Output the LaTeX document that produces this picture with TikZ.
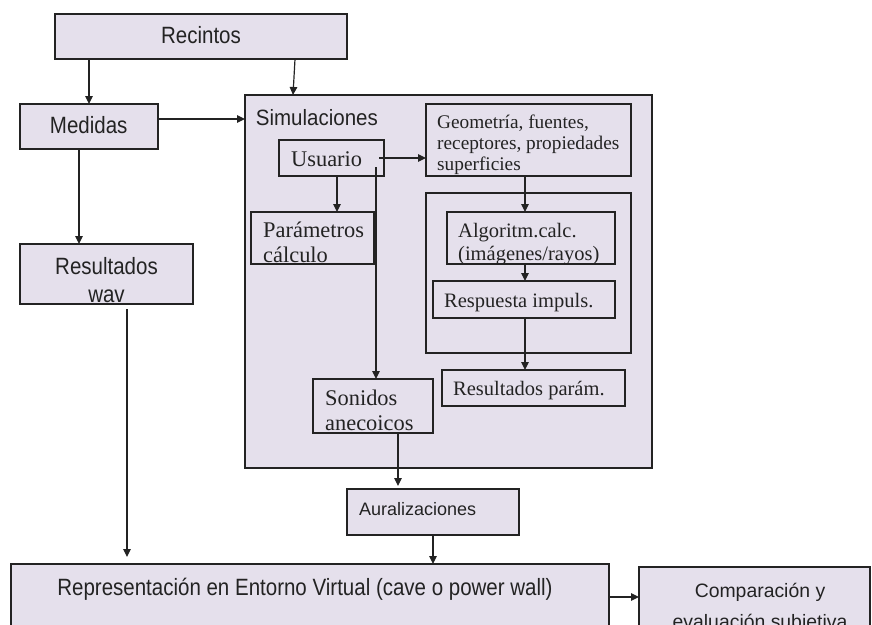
\documentclass[tikz,border=0pt]{standalone}
\usepackage{fontspec}
\usepackage{graphicx}
\setmainfont{Liberation Serif}
\newfontfamily\arialf{Liberation Sans}
\usetikzlibrary{arrows.meta,calc}
\definecolor{boxfill}{RGB}{229,224,236}
\definecolor{ink}{RGB}{35,35,35}
\tikzset{
  box/.style={draw=ink, fill=boxfill, line width=1.5pt, inner sep=0pt, outer sep=0pt, anchor=north west},
  arr/.style={draw=ink, line width=1.2pt, -{Triangle[length=8pt,width=7.5pt]}},
  sansA/.style={font=\arialf\fontsize{20.5}{25.2}\selectfont, inner sep=0pt, text=ink},
  sansS/.style={font=\arialf\fontsize{18}{22}\selectfont, inner sep=0pt, text=ink},
  sansC/.style={font=\arialf\fontsize{19.4}{31}\selectfont, inner sep=0pt, text=ink},
  serL/.style={font=\fontsize{22.4}{25.5}\selectfont, inner sep=0pt, text=ink},
  serM/.style={font=\fontsize{20.5}{23.5}\selectfont, inner sep=0pt, text=ink},
  serS/.style={font=\fontsize{19.3}{21}\selectfont, inner sep=0pt, text=ink},
}
\newcommand\mybox[5]{\node[box, minimum width={#4-#2}, minimum height={#5-#3}] (#1) at (#2,#3) {};}
\newcommand\tall[1]{\scalebox{1}[1.15]{#1}}
\begin{document}
\begin{tikzpicture}[x=1pt,y=-1pt]
\useasboundingbox (0,0) rectangle (872,624);
\clip (0,0) rectangle (872,624);
% boxes
\mybox{rec}{55}{14}{347}{59}
\mybox{med}{20}{104}{158}{149}
\mybox{res}{20}{244}{193}{304}
\mybox{sim}{245}{95}{652}{468}
\mybox{usu}{279}{140}{384}{176}
\mybox{geo}{426}{104}{631}{176}
\mybox{par}{251}{212}{374}{264}
\mybox{calc}{426}{193}{631}{353}
\mybox{alg}{447}{212}{615}{264}
\mybox{resp}{433}{281}{615}{318}
\mybox{rpar}{442}{370}{625}{406}
\mybox{son}{313}{379}{433}{433}
\mybox{aur}{347}{489}{519}{535}
\mybox{rep}{11}{564}{609}{630}
\mybox{comp}{639}{567}{870}{630}
% texts
\node[sansA, anchor=base] (trec) at (201,43.3) {\tall{Recintos}};
\node[sansA, anchor=base] (tmed) at (88.7,133) {\tall{Medidas}};
\node[sansA, anchor=base] (tres) at (106.5,274) {\tall{\parbox[t]{150pt}{\centering Resultados\\wav}}};
\node[sansA, anchor=base west] (tsim) at (255.7,125) {\scalebox{1}[1.08]{Simulaciones}};
\node[serL, anchor=base west] (tusu) at (291,166) {Usuario};
\node[serS, anchor=base west] (tgeo) at (437,128.5) {\parbox[t]{200pt}{Geometría, fuentes,\\receptores, propiedades\\superficies}};
\node[serL, anchor=base west] (tpar) at (263,237) {\parbox[t]{150pt}{Parámetros\\cálculo}};
\node[serM, anchor=base west] (talg) at (458,237) {\parbox[t]{200pt}{Algoritm.calc.\\(imágenes/rayos)}};
\node[serM, anchor=base west] (tresp) at (444,307) {Respuesta impuls.};
\node[serM, anchor=base west] (trpar) at (453,395) {Resultados parám.};
\node[serL, anchor=base west] (tson) at (325,405) {\parbox[t]{150pt}{Sonidos\\anecoicos}};
\node[sansS, anchor=base west] (taur) at (359,515) {Auralizaciones};
\node[sansA, anchor=base] (trep) at (305,595) {\tall{Representación en Entorno Virtual (cave o power wall)}};
\node[sansC, anchor=base] (tcomp) at (760,597) {\parbox[t]{250pt}{\centering Comparación y\\evaluación subjetiva}};
% connectors
\draw[arr] (med.north |- rec.south) -- (med.north);
\draw[arr] ([xshift=94pt]rec.south) -- ([xshift=48pt]sim.north west);
\coordinate (m1) at ([yshift=7.5pt]med.east);
\draw[arr] (m1) -- (m1 -| sim.west);
\coordinate (m2) at ([xshift=-10pt]med.south);
\draw[arr] (m2) -- (m2 |- res.north);
\coordinate (r1) at ([xshift=20.5pt,yshift=-5pt]res.south);
\draw[arr] (r1) -- ($(r1 |- rep.north)+(0,-7)$);
\coordinate (u1) at ([xshift=-5pt]usu.east);
\draw[arr] (u1) -- (u1 -| geo.west);
\coordinate (u2) at ([xshift=5.5pt]usu.south);
\draw[arr] (u2) -- (u2 |- par.north);
\coordinate (u3) at ([xshift=-8pt,yshift=-9pt]usu.east);
\draw[arr] (u3) -- (u3 |- son.north);
\coordinate (g1) at ([xshift=-3.5pt]geo.south);
\draw[arr] (g1) -- (g1 |- alg.north);
\draw[arr] (g1 |- alg.south) -- (g1 |- resp.north);
\draw[arr] (g1 |- resp.south) -- (g1 |- rpar.north);
\coordinate (s1) at ([xshift=25pt]son.south);
\draw[arr] (s1) -- ($(s1 |- aur.north)+(0,-3)$);
\draw[arr] (aur.south) -- (aur.south |- rep.north);
\draw[arr] (rep.east) -- (rep.east -| comp.west);
\end{tikzpicture}
\end{document}
